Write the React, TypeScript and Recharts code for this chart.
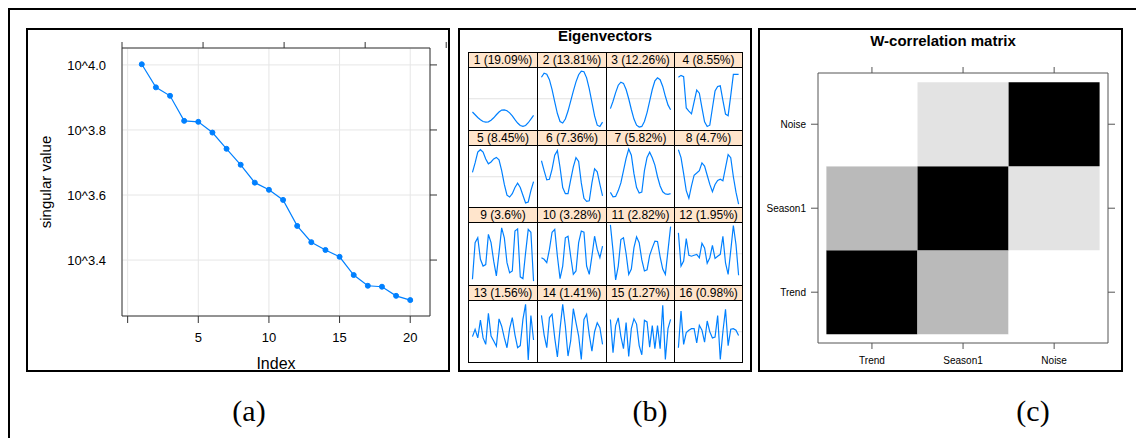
import React from "react";
import { LineChart, Line, XAxis, YAxis, CartesianGrid, ReferenceLine, BarChart, Bar, Cell } from "recharts";

// (a) singular values, log10 scale
const svIndex = [1, 2, 3, 4, 5, 6, 7, 8, 9, 10, 11, 12, 13, 14, 15, 16, 17, 18, 19, 20];
const svLog10 = [4.002, 3.931, 3.905, 3.828, 3.825, 3.792, 3.742, 3.693, 3.638, 3.616, 3.585, 3.505, 3.455, 3.431, 3.41, 3.354, 3.321, 3.318, 3.29, 3.277];
const svTicksX = [0, 5, 10, 15, 20];
const svTicksY = [3.4, 3.6, 3.8, 4.0];

// (b) eigenvectors (scaled to the shared panel range -1..1)
const evTitles = [
  "1 (19.09%)", "2 (13.81%)", "3 (12.26%)", "4 (8.55%)",
  "5 (8.45%)", "6 (7.36%)", "7 (5.82%)", "8 (4.7%)",
  "9 (3.6%)", "10 (3.28%)", "11 (2.82%)", "12 (1.95%)",
  "13 (1.56%)", "14 (1.41%)", "15 (1.27%)", "16 (0.98%)",
];
const ev1 = [-0.43, -0.52, -0.61, -0.68, -0.74, -0.76, -0.75, -0.7, -0.62, -0.52, -0.43, -0.37, -0.36, -0.39, -0.46, -0.56, -0.68, -0.79, -0.87, -0.9, -0.87, -0.78, -0.66, -0.54];
const ev2 = [0.7, 0.83, 0.8, 0.62, 0.3, -0.1, -0.48, -0.74, -0.79, -0.66, -0.4, -0.08, 0.25, 0.55, 0.78, 0.9, 0.88, 0.68, 0.32, -0.12, -0.56, -0.86, -0.9, -0.76];
const ev3 = [-0.32, -0.08, 0.2, 0.44, 0.54, 0.5, 0.3, 0.0, -0.35, -0.66, -0.86, -0.92, -0.9, -0.74, -0.45, -0.08, 0.3, 0.58, 0.68, 0.62, 0.4, 0.08, -0.2, -0.36];
const ev4 = [0.7, 0.76, 0.72, -0.3, -0.4, -0.49, -0.1, 0.28, 0.18, -0.3, -0.75, -0.9, -0.86, -0.3, 0.25, 0.4, 0.42, -0.05, -0.5, -0.55, 0.1, 0.79, 0.79, 0.79];
const ev5 = [0.14, 0.45, 0.8, 0.88, 0.8, 0.58, 0.42, 0.48, 0.58, 0.63, 0.55, 0.2, -0.25, -0.6, -0.66, -0.55, -0.35, -0.21, -0.35, -0.6, -0.85, -0.82, -0.45, -0.16];
const ev6 = [0.52, 0.2, -0.1, -0.08, 0.25, 0.7, 0.85, 0.3, -0.35, -0.55, -0.55, -0.1, 0.32, 0.62, 0.5, -0.2, -0.7, -0.8, -0.78, -0.2, 0.26, 0.16, -0.25, -0.62];
const ev7 = [-0.51, -0.65, -0.64, -0.45, -0.2, 0.2, 0.6, 0.9, 0.7, 0.1, -0.35, -0.53, -0.5, 0.2, 0.63, 0.8, 0.62, 0.38, 0.0, -0.3, -0.49, -0.56, -0.57, -0.55];
const ev8 = [0.88, 0.62, 0.1, -0.45, -0.7, -0.3, 0.05, 0.12, 0.2, 0.45, 0.35, 0.05, -0.25, -0.49, -0.25, -0.12, -0.08, -0.13, 0.3, 0.72, 0.62, 0.0, -0.5, -0.89];
const ev9 = [-0.83, 0.36, 0.52, -0.18, -0.4, -0.35, 0.63, 0.36, -0.24, -0.72, 0.03, 0.84, 0.52, -0.29, -0.62, -0.56, 0.74, 0.81, -0.75, -0.81, 0.03, 0.79, 0.7, -0.89];
const ev10 = [-0.13, -0.18, -0.29, 0.14, 0.7, 0.79, -0.08, -0.81, -0.4, 0.52, 0.57, -0.08, -0.67, -0.56, 0.36, 0.74, 0.7, -0.4, -0.67, -0.08, 0.57, 0.14, -0.13, 0.25];
const ev11 = [0.94, 0.1, -0.85, -0.4, 0.46, 0.52, 0.0, -0.67, -0.5, 0.2, 0.55, 0.36, -0.2, -0.56, -0.52, -0.05, 0.19, 0.41, 0.4, -0.1, -0.5, -0.67, 0.1, 0.88];
const ev12 = [0.68, -0.4, -0.24, 0.49, -0.05, -0.08, -0.05, -0.02, -0.13, 0.34, 0.19, -0.31, -0.13, 0.27, -0.15, -0.08, -0.02, 0.57, -0.3, -0.67, 0.1, 0.92, 0.3, -0.7];
const ev13 = [-0.16, 0.08, -0.2, 0.38, -0.2, -0.41, 0.6, -0.14, -0.3, -0.47, 0.42, 0.18, -0.2, -0.52, 0.1, 0.46, -0.1, -0.52, -0.45, 0.4, 0.89, -0.92, 0.53, -0.27];
const ev14 = [0.53, -0.1, -0.52, 0.46, 0.57, -0.2, -0.82, 0.1, 0.89, 0.18, -0.79, -0.3, 0.75, 0.3, -0.14, -0.9, 0.4, 0.57, -0.1, -0.63, 0.0, 0.29, 0.13, -0.41];
const ev15 = [0.4, -0.68, 0.2, 0.45, -0.15, -0.55, 0.3, -0.8, 0.1, 0.42, 0.25, -0.45, -0.75, 0.37, 0.32, -0.5, 0.2, -0.55, 0.2, -0.55, 0.86, -0.9, 0.1, 0.4];
const ev16 = [-0.52, 0.67, -0.41, -0.03, 0.05, 0.1, 0.1, -0.36, 0.21, 0.05, -0.34, 0.35, 0.0, -0.2, -0.17, 0.53, -0.9, 0.0, 0.73, -0.45, 0.08, 0.1, 0.05, -0.12];
const evSeries = [ev1, ev2, ev3, ev4, ev5, ev6, ev7, ev8, ev9, ev10, ev11, ev12, ev13, ev14, ev15, ev16];

// (c) w-correlations between groups
const groups = ["Trend", "Season1", "Noise"];
const wTrend = [1, 0.27, 0];
const wSeason1 = [0.27, 1, 0.11];
const wNoise = [0, 0.11, 1];

const BLUE = "#0080ff";
const SANS = "'Liberation Sans', Arial, sans-serif";
const SERIF = "'Liberation Serif', 'Times New Roman', serif";

const grey = (w: number) => {
  const g = Math.round(255 * (1 - w)).toString(16).padStart(2, "0");
  return `#${g}${g}${g}`;
};

const svData = svIndex.map((i, k) => ({ i, sv: svLog10[k] }));
const corrData = groups.map((name) => ({ name, Trend: 1, Season1: 1, Noise: 1 }));

// column / row edges of the eigenvector lattice
const colEdges = [468, 537, 606, 674, 742];
const rowTop = 52;
const rowStep = 77.5;
const stripH = 15;

const box = (left: number, width: number): React.CSSProperties => ({
  position: "absolute",
  left,
  top: 28,
  width,
  height: 344,
  border: "2px solid #000",
  boxSizing: "border-box",
})

const YLabelA = (props: any) => {
  const vb = props.viewBox || { x: 36, y: 20, width: 60, height: 268 }
  const cx = vb.x - 17
  const cy = vb.y + vb.height / 2
  return (
    <text x={cx} y={cy} transform={`rotate(-90 ${cx} ${cy})`} textAnchor="middle" dominantBaseline="central" fontSize={15} fill="#000" fontFamily={SANS}>
      singular value
    </text>
  )
}

function SingularValues() {
  return (
    <LineChart width={424} height={343} data={svData} margin={{ top: 10, right: 10, bottom: 0, left: 36 }} style={{ position: "absolute", left: 26, top: 28 }}>
      <CartesianGrid xAxisId="b" yAxisId="l" stroke="#e6e6e6" />
      <XAxis xAxisId="b" dataKey="i" type="number" domain={[-0.4, 21.4]} ticks={svTicksX} allowDataOverflow height={55}
        tickFormatter={(v) => (v === 0 ? "" : String(v))} tickSize={7} tickMargin={10}
        tick={{ fontSize: 13, fill: "#000", fontFamily: SANS }} stroke="#333"
        label={{ value: "Index", position: "insideBottom", offset: 2, fontSize: 16, fill: "#000", fontFamily: SANS }} />
      <XAxis xAxisId="t" orientation="top" type="number" domain={[-0.4, 21.4]} ticks={svTicksX} allowDataOverflow height={10}
        tickFormatter={() => ""} tickSize={6} stroke="#333" />
      <YAxis yAxisId="l" type="number" domain={[3.228, 4.052]} ticks={svTicksY} allowDataOverflow width={60}
        tickFormatter={(v) => "10^" + Number(v).toFixed(1)} tickLine={false} tickSize={6} tickMargin={10}
        tick={{ fontSize: 13, fill: "#000", fontFamily: SANS }} stroke="#333" label={<YLabelA />} />
      <YAxis yAxisId="r" orientation="right" type="number" domain={[3.228, 4.052]} ticks={svTicksY} allowDataOverflow width={10}
        tickFormatter={() => ""} tickSize={7} stroke="#333" />
      <Line xAxisId="b" yAxisId="l" dataKey="sv" stroke={BLUE} strokeWidth={1.2}
        dot={{ r: 2.5, fill: BLUE, stroke: BLUE, strokeWidth: 1 }} isAnimationActive={false} />
    </LineChart>
  )
}

function Eigenvectors() {
  return (
    <>
      {evSeries.map((vals, k) => {
        const r = Math.floor(k / 4)
        const c = k % 4
        const left = colEdges[c]
        const w = colEdges[c + 1] - colEdges[c] + 1
        const top = rowTop + r * rowStep
        const data = vals.map((v, i) => ({ t: i + 1, v }))
        return (
          <div key={k} style={{ position: "absolute", left, top, width: w, height: rowStep + 1, border: "1px solid #000", boxSizing: "border-box", background: "#fff" }}>
            <div style={{ height: stripH - 1, background: "#ffe5cc", borderBottom: "1px solid #000", fontSize: 12, lineHeight: "14px", textAlign: "center", fontFamily: SANS, color: "#000", whiteSpace: "nowrap" }}>
              {evTitles[k]}
            </div>
            <LineChart width={w - 2} height={rowStep - stripH - 1} data={data} margin={{ top: 0, right: 0, bottom: 0, left: 0 }}>
              <XAxis dataKey="t" type="number" domain={[-0.3, 25.3]} hide />
              <YAxis type="number" domain={[-1, 1]} hide allowDataOverflow />
              <ReferenceLine y={0} stroke="#e2e2e2" />
              <Line dataKey="v" stroke={BLUE} strokeWidth={1.2} dot={false} isAnimationActive={false} />
            </LineChart>
          </div>
        )
      })}
    </>
  )
}

function WCorrelation() {
  const rows = [wTrend, wSeason1, wNoise]
  return (
    <BarChart width={365} height={344} data={corrData} barCategoryGap={0} barGap={0}
      margin={{ top: 37, right: 7, bottom: 4, left: 10 }} style={{ position: "absolute", left: 758, top: 28 }}>
      <XAxis xAxisId="b" dataKey="name" padding={{ left: 8.4, right: 8.3 }} height={25} tickSize={6} tickMargin={8}
        tick={{ fontSize: 10, fill: "#000", fontFamily: SANS }} stroke="#555" />
      <XAxis xAxisId="t" dataKey="name" orientation="top" padding={{ left: 8.4, right: 8.3 }} height={8} tickSize={6}
        tickFormatter={() => ""} stroke="#555" />
      <YAxis yAxisId="l" type="number" domain={[-0.105, 3.11]} ticks={[0.5, 1.5, 2.5]} allowDataOverflow width={50}
        tickFormatter={(v) => groups[Math.floor(v)]} tickSize={7} tickMargin={5}
        tick={{ fontSize: 10, fill: "#000", fontFamily: SANS }} stroke="#555" />
      <YAxis yAxisId="r" orientation="right" type="number" domain={[-0.105, 3.11]} ticks={[0.5, 1.5, 2.5]} allowDataOverflow width={8}
        tickFormatter={() => ""} tickSize={7} stroke="#555" />
      {groups.map((g, ri) => (
        <Bar key={g} xAxisId="b" yAxisId="l" dataKey={g} stackId="w" isAnimationActive={false}>
          {groups.map((col, ci) => (
            <Cell key={col} fill={grey(rows[ri][ci])} />
          ))}
        </Bar>
      ))}
    </BarChart>
  )
}

const panelLabel = (text: string, cx: number) => (
  <div style={{ position: "absolute", left: cx - 40, top: 396, width: 80, textAlign: "center", fontFamily: SERIF, fontSize: 30, lineHeight: "30px", color: "#000" }}>
    {text}
  </div>
)

export default function App() {
  return (
    <div style={{ position: "absolute", left: 0, top: 0, width: 1136, height: 438, background: "#fff", overflow: "hidden", fontFamily: SANS }}>
      {/* cadre extérieur */}
      <div style={{ position: "absolute", left: 8, top: 8, width: 1140, height: 440, borderTop: "2px solid #000", borderLeft: "2px solid #000" }} />

      <div style={box(26, 424)} />
      <div style={box(458, 294)} />
      <div style={box(758, 365)} />

      <SingularValues />

      <div style={{ position: "absolute", left: 458, top: 28, width: 294, textAlign: "center", fontWeight: "bold", fontSize: 15, lineHeight: "15px" }}>
        Eigenvectors
      </div>
      <Eigenvectors />

      <div style={{ position: "absolute", left: 758, top: 33, width: 370, textAlign: "center", fontWeight: "bold", fontSize: 15, lineHeight: "15px" }}>
        W-correlation matrix
      </div>
      <WCorrelation />

      {panelLabel("(a)", 249)}
      {panelLabel("(b)", 650)}
      {panelLabel("(c)", 1033)}
    </div>
  )
}
